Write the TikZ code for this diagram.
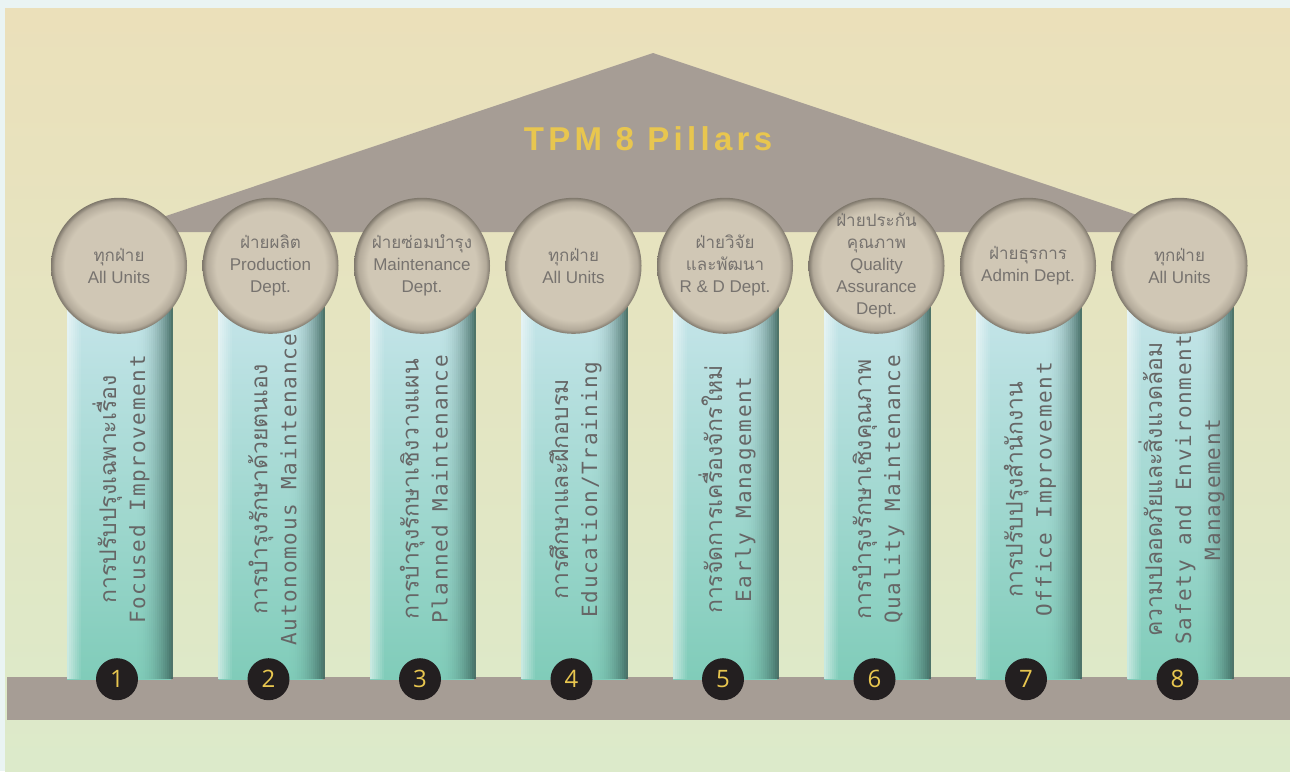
\documentclass[tikz,border=0pt]{standalone}
\usepackage{fontspec}
\setmainfont{Liberation Sans}
\newfontfamily\thaifont[Script=Thai]{Loma}
\newfontfamily\monofont[LetterSpace=8]{DejaVu Sans Mono}
\newfontfamily\numfont{Open Sans}
\newfontfamily\titlefont[LetterSpace=13]{Liberation Sans}

\definecolor{frame}{HTML}{EAF4F3}
\definecolor{bgtop}{HTML}{EBE0BA}
\definecolor{bgbot}{HTML}{DCEACA}
\definecolor{stone}{HTML}{A69D95}
\definecolor{gold}{HTML}{E8C64F}
\definecolor{pilltop}{HTML}{C6E5EA}
\definecolor{pillmid}{HTML}{A9DAD6}
\definecolor{pillbot}{HTML}{80CCB9}
\definecolor{pilldark}{HTML}{3F6860}
\definecolor{capmid}{HTML}{D0C7B5}
\definecolor{capring}{HTML}{B3AA9A}
\definecolor{capedge}{HTML}{7F786C}
\definecolor{captext}{HTML}{77736F}
\definecolor{pilltext}{HTML}{666666}
\definecolor{numball}{HTML}{231F20}

\pgfdeclareradialshading{capshade}{\pgfpoint{0bp}{0bp}}{color(0bp)=(capmid); color(20bp)=(capmid); color(23.5bp)=(capring); color(25bp)=(capedge); color(50bp)=(capedge)}

\tikzset{
	pillar/.style={rectangle, draw=none, inner sep=0pt, minimum width=104pt, minimum height=379pt,
		top color=pilltop, middle color=pillmid, bottom color=pillbot},
	capball/.style={circle, draw=none, inner sep=0pt, minimum size=136pt, shading=capshade},
	deptlabel/.style={align=center, text=captext, font=\fontsize{17}{22}\selectfont},
	pilltxt/.style={align=center, text=pilltext, rotate=90, font=\monofont\fontsize{21}{29}\selectfont},
	numball/.style={circle, fill=numball, inner sep=0pt, minimum size=42pt, text=gold,
		font=\numfont\fontsize{24}{24}\selectfont},
	titlelabel/.style={text=gold, font=\titlefont\bfseries\fontsize{33}{33}\selectfont}
}

% #1 number, #2 x, #3 department, #4 thai name, #5 english name
\newcommand{\tpmpillar}[5]{
	\node[pillar] (pill#1) at (#2,489.5) {};
	\foreach \s in {1,...,7}{
		\pgfmathsetmacro{\op}{0.08*(8-\s)}
		\fill[white, fill opacity=\op] ([xshift=2*\s-2]pill#1.north west) rectangle ([xshift=2*\s]pill#1.south west);
	}
	\foreach \s in {1,...,18}{
		\pgfmathsetmacro{\op}{0.9*(\s/18)^2}
		\fill[pilldark, fill opacity=\op] ([xshift=2*\s-36]pill#1.north east) rectangle ([xshift=2*\s-34]pill#1.south east);
	}
	\node[capball] (cap#1) at ([yshift=34pt]pill#1.north) {};
	\node[deptlabel] (dept#1) at (cap#1) {#3};
	\node[numball] (num#1) at ([xshift=-2pt]pill#1.south) {#1};
	\node[pilltxt] (txt#1) at ([xshift=2pt]pill#1.center) {{\thaifont\fontsize{23}{29}\selectfont #4}\\#5};
}

\begin{document}
\begin{tikzpicture}[x=1pt, y=-1pt]
	\useasboundingbox (0,0) rectangle (1290,771);
	\fill[frame] (0,0) rectangle (1290,771);
	\shade[top color=bgtop, bottom color=bgbot] (5,8) rectangle (1290,771);

	\fill[stone] (118,232) -- (653,53) -- (1188,232) -- cycle;
	\fill[stone] (7,677) rectangle (1290,720);

	\node[titlelabel] (title) at (648,139) {TPM 8 Pillars};

	\tpmpillar{1}{119}{{\thaifont ทุกฝ่าย}\\All Units}{การปรับปรุงเฉพาะเรื่อง}{Focused Improvement}
	\tpmpillar{2}{270.5}{{\thaifont ฝ่ายผลิต}\\Production\\Dept.}{การบำรุงรักษาด้วยตนเอง}{Autonomous Maintenance}
	\tpmpillar{3}{422}{{\thaifont ฝ่ายซ่อมบำรุง}\\Maintenance\\Dept.}{การบำรุงรักษาเชิงวางแผน}{Planned Maintenance}
	\tpmpillar{4}{573.5}{{\thaifont ทุกฝ่าย}\\All Units}{การศึกษาและฝึกอบรม}{Education/Training}
	\tpmpillar{5}{725}{{\thaifont ฝ่ายวิจัย}\\{\thaifont และพัฒนา}\\R \& D Dept.}{การจัดการเครื่องจักรใหม่}{Early Management}
	\tpmpillar{6}{876.5}{{\thaifont ฝ่ายประกัน}\\{\thaifont คุณภาพ}\\Quality\\Assurance\\Dept.}{การบำรุงรักษาเชิงคุณภาพ}{Quality Maintenance}
	\tpmpillar{7}{1028}{{\thaifont ฝ่ายธุรการ}\\Admin Dept.}{การปรับปรุงสำนักงาน}{Office Improvement}
	\tpmpillar{8}{1179.5}{{\thaifont ทุกฝ่าย}\\All Units}{ความปลอดภัยและสิ่งแวดล้อม}{Safety and Environment\\Management}
\end{tikzpicture}
\end{document}
